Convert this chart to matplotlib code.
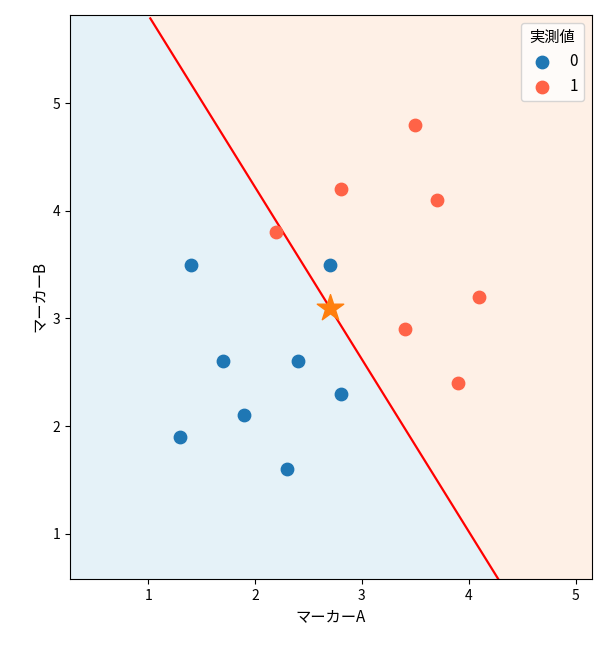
import matplotlib
matplotlib.use('Agg')
import matplotlib.pyplot as plt
import numpy as np

plt.rcParams['font.family'] = ['Noto Sans CJK JP', 'DejaVu Sans']

a0 = [1.4, 1.7, 1.9, 1.3, 2.3, 2.4, 2.8, 2.7]
b0 = [3.5, 2.6, 2.1, 1.9, 1.6, 2.6, 2.3, 3.5]
a1 = [2.2, 2.8, 3.5, 3.7, 4.1, 3.4, 3.9]
b1 = [3.8, 4.2, 4.8, 4.1, 3.2, 2.9, 2.4]
star = (2.7, 3.1)
slope = -1.6

xlim = (0.27, 5.15)
ylim = (0.58, 5.82)

fig, ax = plt.subplots(figsize=(6.1, 6.49), dpi=100)
fig.subplots_adjust(left=0.115, right=0.97, top=0.977, bottom=0.108)

xs = np.linspace(xlim[0], xlim[1], 200)
yl = star[1] + slope * (xs - star[0])
ax.fill_between(xs, ylim[0] - 1, yl, color='#e5f2f8', zorder=0)
ax.fill_between(xs, yl, ylim[1] + 1, color='#fef0e6', zorder=0)

x_line = np.linspace(1.02, 4.29, 50)
ax.plot(x_line, star[1] + slope * (x_line - star[0]), color='red', lw=1.6, zorder=2)

ax.scatter(a0, b0, s=80, color='#1f77b4', label='0', zorder=3)
ax.scatter(a1, b1, s=80, color='#ff6347', label='1', zorder=3)
ax.scatter([star[0]], [star[1]], marker='*', s=400, color='#ff7f0e', zorder=4)

ax.set_xlim(xlim)
ax.set_ylim(ylim)
ax.set_xticks([1, 2, 3, 4, 5])
ax.set_yticks([1, 2, 3, 4, 5])
ax.set_xlabel('マーカーA', fontsize=11)
ax.set_ylabel('マーカーB', fontsize=11)
ax.legend(title='実測値', loc='upper right', fontsize=11, title_fontsize=11)

fig.savefig('out.png')
